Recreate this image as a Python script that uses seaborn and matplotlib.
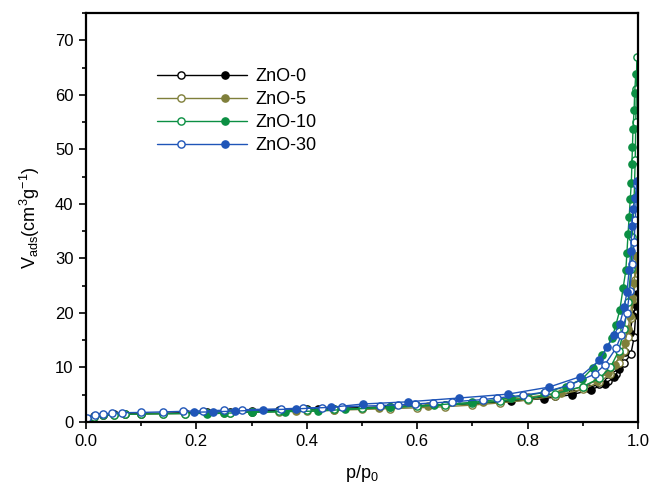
import numpy as np
import pandas as pd
import matplotlib
matplotlib.use("Agg")
import matplotlib.pyplot as plt
import seaborn as sns
from matplotlib.lines import Line2D
from matplotlib.legend_handler import HandlerBase
from matplotlib.ticker import MultipleLocator, FormatStrFormatter

# N2 isotherms: open symbols = adsorption, filled symbols = desorption
samples = ["ZnO-0", "ZnO-5", "ZnO-10", "ZnO-30"]
colors = ["#000000", "#7f7f3a", "#0b8f43", "#1f55b8"]

zno0_ads_p = [0.002, 0.015, 0.03, 0.05, 0.07, 0.1, 0.14, 0.18, 0.22, 0.26, 0.3, 0.35, 0.4, 0.45,
              0.5, 0.55, 0.6, 0.65, 0.7, 0.75, 0.8, 0.85, 0.88, 0.91, 0.93, 0.945, 0.96, 0.975,
              0.987, 0.993, 0.996, 0.998]
zno0_ads_v = [0.6, 1.1, 1.3, 1.4, 1.5, 1.55, 1.6, 1.7, 1.8, 1.9, 2.0, 2.15, 2.3, 2.45,
              2.6, 2.75, 2.9, 3.1, 3.4, 3.75, 4.2, 4.8, 5.4, 6.3, 6.9, 7.6, 8.8, 10.8,
              12.4, 15.5, 19.9, 23.0]
zno0_des_p = [0.998, 0.996, 0.991, 0.985, 0.976, 0.966, 0.957, 0.94, 0.915, 0.88, 0.83, 0.77,
              0.7, 0.6, 0.5, 0.42]
zno0_des_v = [23.5, 21.5, 19.4, 16.3, 12.8, 9.7, 8.2, 7.0, 5.9, 5.0, 4.3, 3.8,
              3.4, 3.0, 2.6, 2.3]

zno5_ads_p = [0.002, 0.015, 0.03, 0.05, 0.07, 0.1, 0.14, 0.18, 0.22, 0.26, 0.3, 0.35, 0.4, 0.45,
              0.5, 0.55, 0.6, 0.65, 0.7, 0.75, 0.8, 0.85, 0.9, 0.93, 0.95, 0.965, 0.975, 0.982,
              0.988, 0.992, 0.995, 0.997, 0.998]
zno5_ads_v = [0.5, 1.0, 1.2, 1.3, 1.4, 1.45, 1.5, 1.55, 1.6, 1.7, 1.8, 1.9, 2.0, 2.15,
              2.3, 2.45, 2.6, 2.8, 3.1, 3.5, 4.0, 4.8, 6.0, 7.3, 8.8, 10.8, 13.0, 15.5,
              19.0, 22.5, 26.0, 28.5, 30.5]
zno5_des_p = [0.997, 0.995, 0.993, 0.99, 0.986, 0.982, 0.976, 0.968, 0.958, 0.945, 0.925, 0.9,
              0.86, 0.8, 0.72, 0.62, 0.53, 0.45, 0.38, 0.3, 0.25]
zno5_des_v = [30.5, 28.0, 25.5, 22.5, 19.5, 17.0, 14.5, 12.3, 10.5, 9.0, 7.6, 6.5,
              5.4, 4.5, 3.6, 3.0, 2.6, 2.2, 2.0, 1.8, 1.7]

zno10_ads_p = [0.002, 0.015, 0.03, 0.05, 0.07, 0.1, 0.14, 0.18, 0.22, 0.26, 0.3, 0.35, 0.4, 0.45,
               0.5, 0.55, 0.6, 0.65, 0.7, 0.75, 0.8, 0.85, 0.9, 0.93, 0.95, 0.965, 0.975, 0.982,
               0.987, 0.99, 0.993, 0.995, 0.996, 0.997, 0.998]
zno10_ads_v = [0.5, 1.0, 1.2, 1.3, 1.4, 1.45, 1.5, 1.55, 1.6, 1.7, 1.8, 1.95, 2.2, 2.35,
               2.5, 2.7, 2.9, 3.1, 3.4, 3.8, 4.3, 5.2, 6.5, 8.0, 10.0, 13.0, 17.0, 22.0,
               28.0, 34.0, 41.0, 48.0, 55.0, 61.0, 67.0]
zno10_des_p = [0.996, 0.994, 0.993, 0.991, 0.99, 0.989, 0.988, 0.986, 0.984, 0.982, 0.98, 0.978,
               0.973, 0.967, 0.96, 0.953, 0.935, 0.918, 0.899, 0.87, 0.83, 0.77, 0.7, 0.63,
               0.55, 0.47, 0.42, 0.36, 0.3, 0.25, 0.22]
zno10_des_v = [63.8, 60.3, 57.2, 53.7, 50.4, 47.3, 43.9, 40.8, 37.5, 34.5, 31.0, 27.8,
               24.5, 20.5, 17.8, 15.4, 12.2, 9.9, 7.9, 6.5, 5.4, 4.4, 3.6, 3.1,
               2.7, 2.3, 2.0, 1.9, 1.8, 1.6, 1.5]

zno30_ads_p = [0.002, 0.016, 0.03, 0.047, 0.065, 0.1, 0.14, 0.175, 0.212, 0.25, 0.283, 0.353,
               0.393, 0.428, 0.464, 0.533, 0.565, 0.596, 0.629, 0.663, 0.719, 0.745, 0.792,
               0.832, 0.877, 0.922, 0.94, 0.96, 0.97, 0.98, 0.985, 0.99, 0.993, 0.995, 0.997,
               0.998]
zno30_ads_v = [0.8, 1.3, 1.5, 1.6, 1.7, 1.75, 1.85, 1.95, 2.05, 2.15, 2.25, 2.4,
               2.55, 2.65, 2.8, 3.0, 3.15, 3.3, 3.5, 3.7, 4.1, 4.4, 4.9,
               5.5, 6.8, 8.8, 10.5, 13.5, 16.0, 20.0, 24.0, 29.0, 33.0, 37.0, 41.0,
               43.5]
zno30_des_p = [0.998, 0.995, 0.991, 0.989, 0.987, 0.984, 0.98, 0.975, 0.967, 0.957, 0.944, 0.93,
               0.895, 0.839, 0.764, 0.676, 0.583, 0.502, 0.444, 0.38, 0.32, 0.27, 0.23, 0.195]
zno30_des_v = [44.2, 41.0, 39.0, 36.0, 31.4, 27.8, 23.8, 21.0, 18.0, 16.0, 13.7, 11.3,
               8.3, 6.4, 5.1, 4.4, 3.7, 3.3, 2.7, 2.4, 2.2, 2.0, 1.85, 1.8]

branches = {
    "ZnO-0": ((zno0_ads_p, zno0_ads_v), (zno0_des_p, zno0_des_v)),
    "ZnO-5": ((zno5_ads_p, zno5_ads_v), (zno5_des_p, zno5_des_v)),
    "ZnO-10": ((zno10_ads_p, zno10_ads_v), (zno10_des_p, zno10_des_v)),
    "ZnO-30": ((zno30_ads_p, zno30_ads_v), (zno30_des_p, zno30_des_v)),
}

rows = []
for name in samples:
    (ap, av), (dp, dv) = branches[name]
    rows.append(pd.DataFrame({"p": ap, "V": av, "sample": name, "branch": "ads"}))
    rows.append(pd.DataFrame({"p": dp, "V": dv, "sample": name, "branch": "des"}))
df = pd.concat(rows, ignore_index=True)

sns.set_style("white")
plt.rcParams["font.family"] = ["Liberation Sans", "DejaVu Sans"]
plt.rcParams["mathtext.fontset"] = "custom"
plt.rcParams["mathtext.rm"] = "Liberation Sans"
plt.rcParams["mathtext.it"] = "Liberation Sans"
plt.rcParams["text.color"] = "black"
plt.rcParams["axes.labelcolor"] = "black"
plt.rcParams["xtick.color"] = "black"
plt.rcParams["ytick.color"] = "black"

fig = plt.figure(figsize=(6.49, 4.90), dpi=100)
ax = fig.add_axes([0.1325, 0.1388, 0.8505, 0.8347])

for name, color in zip(samples, colors):
    for branch, face in (("ads", "white"), ("des", color)):
        sub = df[(df["sample"] == name) & (df["branch"] == branch)]
        sns.lineplot(data=sub, x="p", y="V", sort=False, estimator=None, ax=ax,
                     color=color, lw=1.0, marker="o", markersize=5.2,
                     markerfacecolor=face, markeredgecolor=color,
                     markeredgewidth=1.0, legend=False)

ax.set_xlim(0, 1.0)
ax.set_ylim(0, 75)
ax.xaxis.set_major_locator(MultipleLocator(0.2))
ax.xaxis.set_minor_locator(MultipleLocator(0.1))
ax.yaxis.set_major_locator(MultipleLocator(10))
ax.yaxis.set_minor_locator(MultipleLocator(5))
ax.xaxis.set_major_formatter(FormatStrFormatter("%.1f"))
ax.tick_params(which="major", direction="out", length=5, width=1.2, labelsize=12,
               bottom=True, left=True, top=False, right=False, pad=4,
               colors="black")
ax.tick_params(which="minor", direction="out", length=3, width=1.2,
               bottom=True, left=True, top=False, right=False, colors="black")
for sp in ax.spines.values():
    sp.set_linewidth(1.6)
    sp.set_color("black")

ax.set_xlabel(r"p/p$_0$", fontsize=13, labelpad=10, color="black")
ax.set_ylabel(r"V$_{\mathregular{ads}}$(cm$^3$g$^{-1}$)", fontsize=13, labelpad=9,
              color="black")


class PairHandler(HandlerBase):
    """Line with an open symbol (adsorption) and a filled symbol (desorption)."""
    def create_artists(self, legend, orig_handle, xdescent, ydescent, width, height,
                       fontsize, trans):
        c = orig_handle.get_color()
        y = height / 2 - ydescent
        x0, x1 = -xdescent, -xdescent + width
        line = Line2D([x0, x1], [y, y], color=c, lw=1.0, transform=trans)
        m_open = Line2D([x0 + 0.27 * width], [y], ls="none", marker="o", markersize=5.2,
                        markerfacecolor="white", markeredgecolor=c, markeredgewidth=1.0,
                        transform=trans)
        m_fill = Line2D([x0 + 0.76 * width], [y], ls="none", marker="o", markersize=5.2,
                        markerfacecolor=c, markeredgecolor=c, markeredgewidth=1.0,
                        transform=trans)
        return [line, m_open, m_fill]


handles = [Line2D([], [], color=c) for c in colors]
leg = ax.legend(handles, samples, handler_map={Line2D: PairHandler()},
                loc="upper left", bbox_to_anchor=(0.115, 0.883), frameon=False,
                fontsize=13, handlelength=5.0, handletextpad=0.45, labelspacing=0.34,
                borderaxespad=0.0)
for t in leg.get_texts():
    t.set_color("black")

fig.savefig("out.png", dpi=100)
